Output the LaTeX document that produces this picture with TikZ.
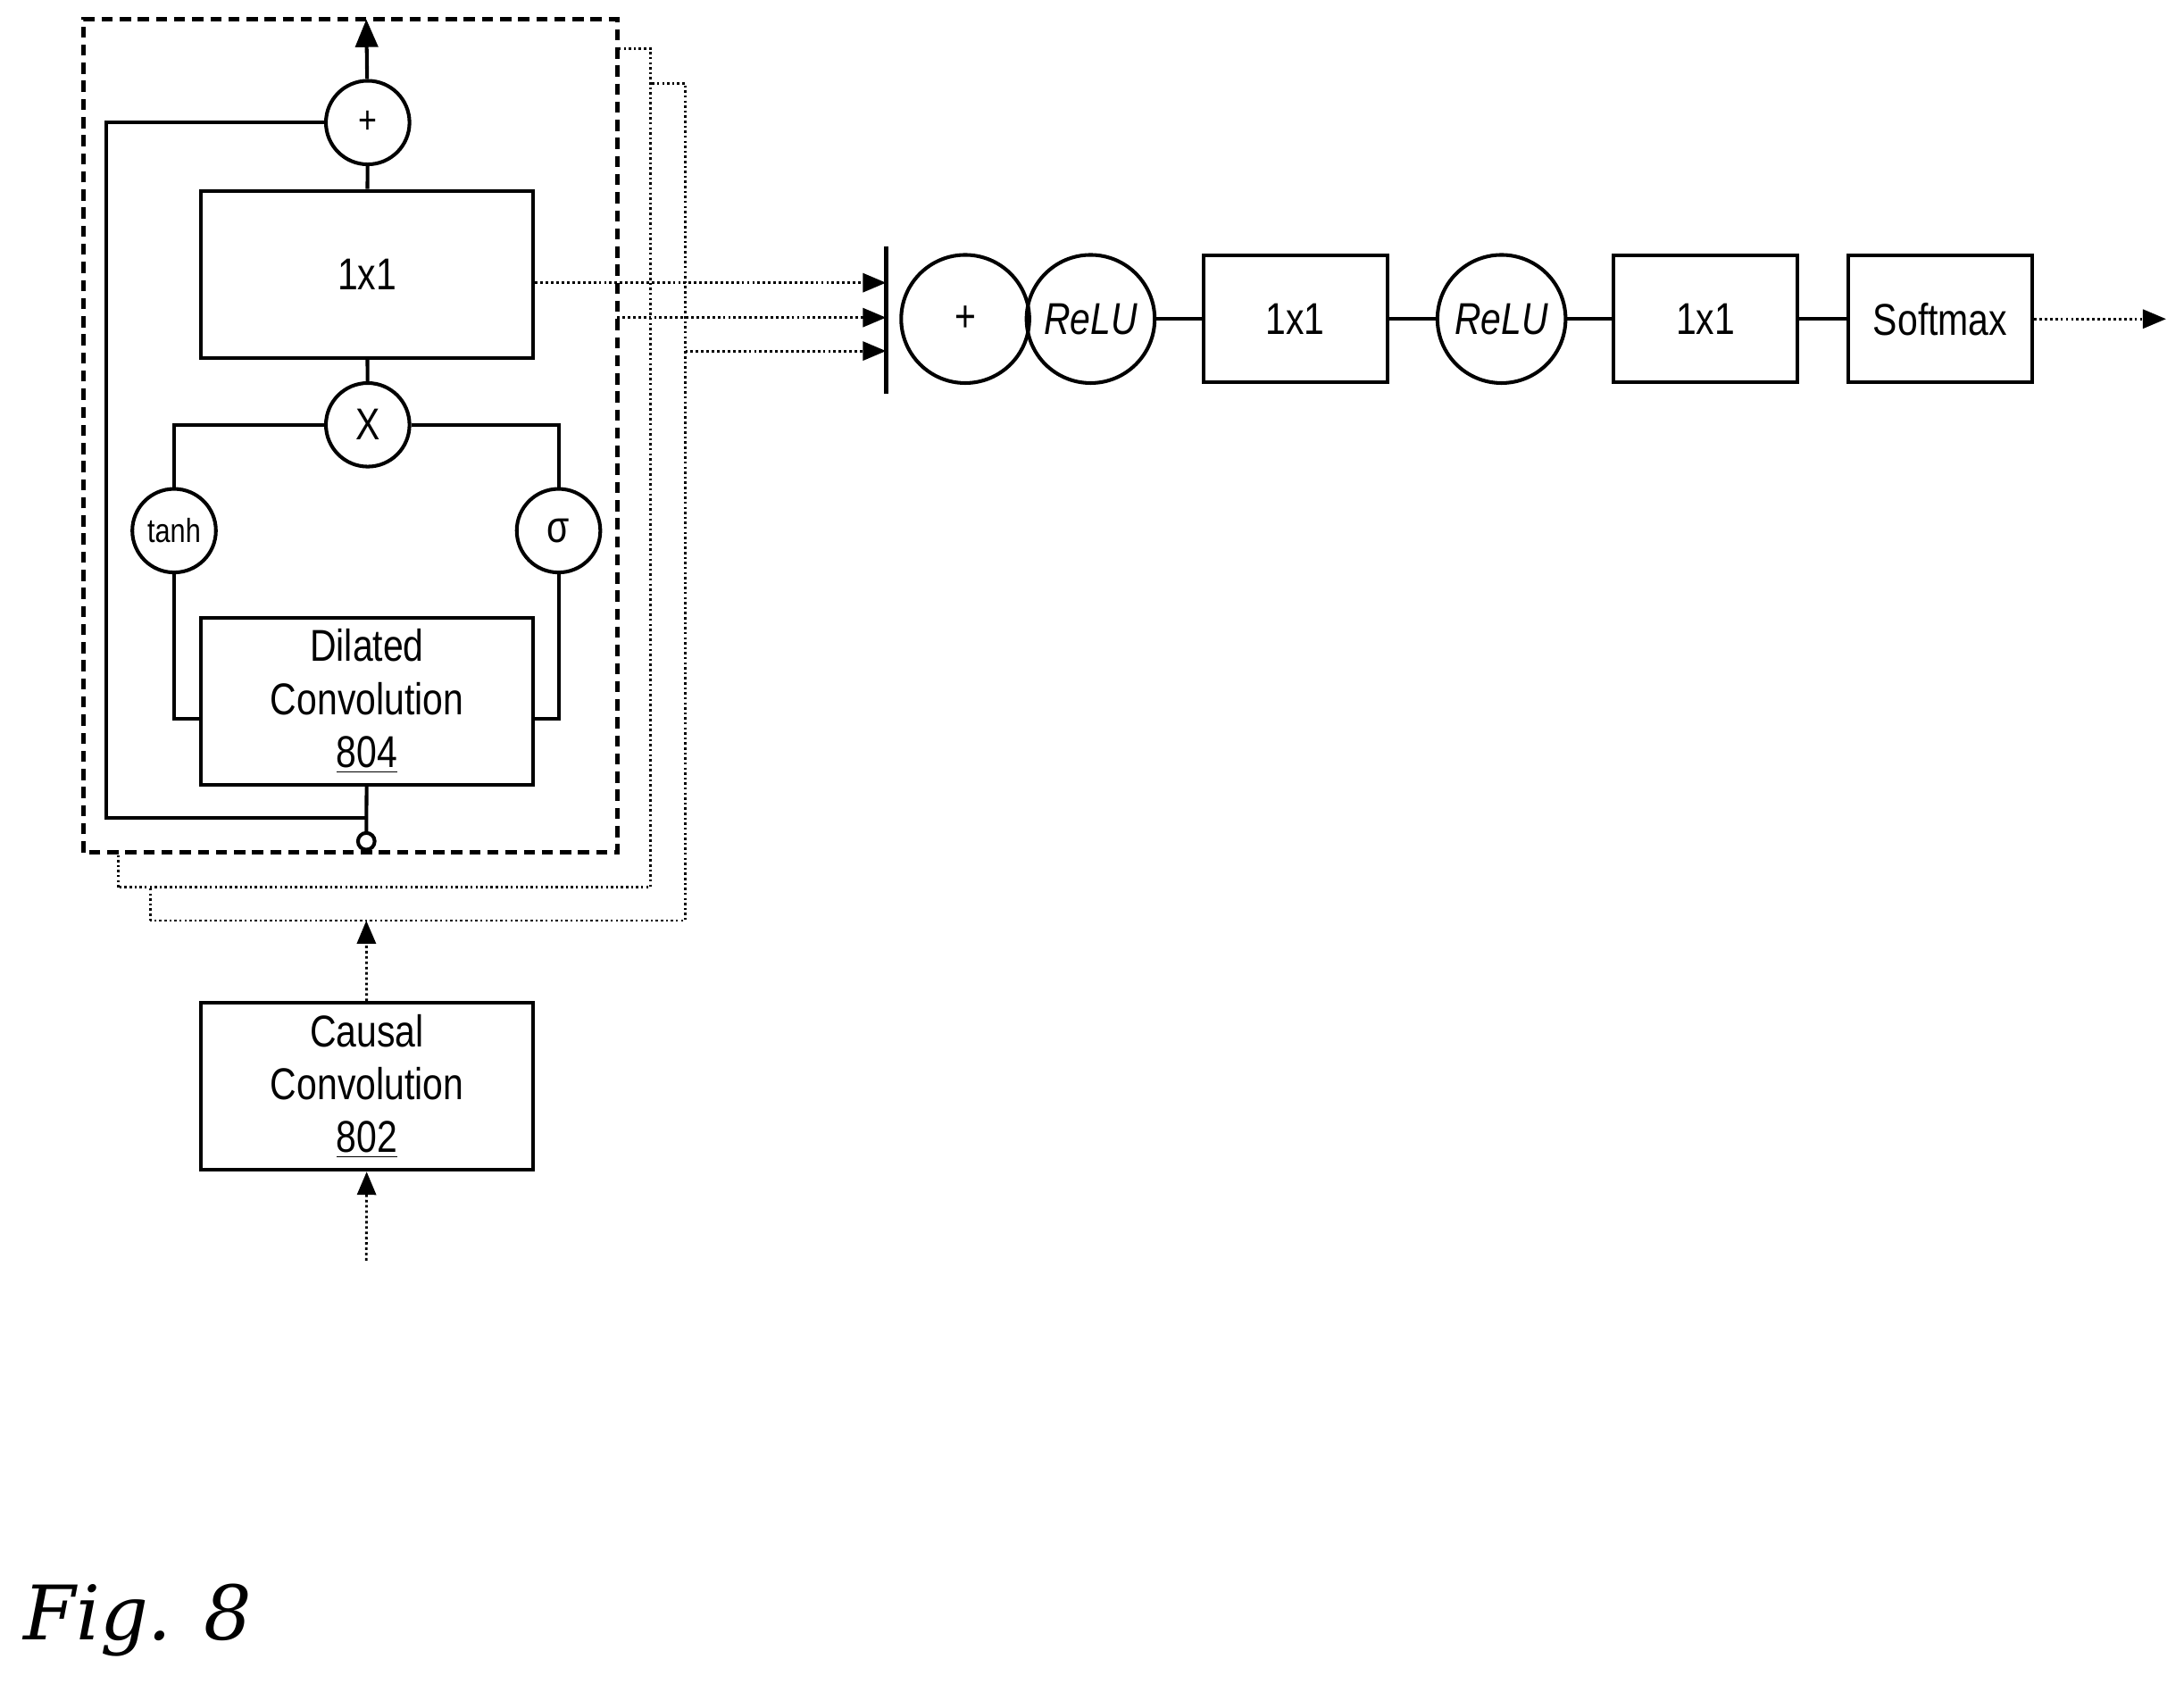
\documentclass[tikz,border=0pt]{standalone}
\usepackage{fontspec}
\setmainfont{Liberation Sans}[FakeStretch=0.82]
\newfontfamily\figfont{DejaVu Serif}
\usetikzlibrary{arrows,positioning}
\tikzset{
  blk/.style={draw,line width=1.3pt,minimum width=119.5pt,minimum height=60pt,align=center,font=\fontsize{16}{19}\selectfont},
  sblk/.style={draw,line width=1.3pt,minimum width=66pt,minimum height=45.5pt,font=\fontsize{16}{19}\selectfont},
  op/.style={draw,circle,line width=1.3pt,inner sep=0pt,minimum size=30pt,font=\fontsize{12}{14}\selectfont},
  bop/.style={draw,circle,line width=1.3pt,inner sep=0pt,minimum size=46pt,font=\fontsize{16}{19}\selectfont},
  wire/.style={line width=1.3pt},
  skip/.style={densely dotted,line width=0.9pt,-triangle 45},
}
\begin{document}
\begin{tikzpicture}[x=0.5pt,y=-0.5pt]
  \useasboundingbox (0,0) rectangle (1568,1209);
  % stacked layers
  \draw[densely dotted,line width=0.8pt] (108,661) rectangle (492,60);
  \draw[densely dotted,line width=0.8pt,fill=white] (85,637) rectangle (467,35);
  \draw[dash pattern=on 4pt off 2.5pt,line width=1.6pt,fill=white] (60,612) rectangle (443,14);
  % residual block
  \node[op,font=\fontsize{14}{16}\selectfont] (sum) at (264,88) {+};
  \node[blk] (res) at (263.5,197) {1x1};
  \node[op,font=\fontsize{16}{19}\selectfont] (mul) at (264,305) {X};
  \node[op] (tanh) at (125,381) {tanh};
  \node[op,font=\fontsize{16}{19}\selectfont] (sig) at (401,381) {σ};
  \node[blk] (dil) at (263.5,503.5) {Dilated\\Convolution\\\underline{804}};
  \node[draw,circle,line width=1.3pt,inner sep=0pt,minimum size=6pt] (in) at (263,604) {};
  \node[blk] (causal) at (263.5,780) {Causal\\Convolution\\\underline{802}};
  \coordinate (top) at (263,14);
  \coordinate (src) at (263,905);
  \coordinate (lay) at (263,661);
  \draw[wire,-triangle 45] (sum) -- (top);
  \draw[wire] (sum) -- (res);
  \draw[wire] (res) -- (mul);
  \draw[wire] (mul) -| (tanh);
  \draw[wire] (mul) -| (sig);
  \draw[wire] (tanh) |- (dil.west |- 0,516);
  \draw[wire] (sig) |- (dil.east |- 0,516);
  \draw[wire] (in) -- (dil);
  \draw[wire] (sum) -| (76,587) -- (263,587);
  \draw[skip] (src) -- (causal);
  \draw[skip] (causal) -- (lay);
  % output stack
  \draw[line width=1.6pt] (636,177) -- (636,283);
  \node[bop] (osum) at (693,229) {+};
  \node[bop] (relu1) at (783,229) {\itshape ReLU};
  \node[sblk] (fc1) at (930,229) {1x1};
  \node[bop] (relu2) at (1078,229) {\itshape ReLU};
  \node[sblk] (fc2) at (1224.5,229) {1x1};
  \node[sblk] (soft) at (1393,229) {Softmax};
  \coordinate (out) at (1555,229);
  \draw[wire] (relu1) -- (fc1);
  \draw[wire] (fc1) -- (relu2);
  \draw[wire] (relu2) -- (fc2);
  \draw[wire] (fc2) -- (soft);
  \draw[skip] (soft) -- (out);
  \draw[skip] (res.east |- 0,203) -- (636,203);
  \draw[skip] (443,228) -- (636,228);
  \draw[skip] (492,252) -- (636,252);
  \node[anchor=west,font=\figfont\itshape\fontsize{27}{30}\selectfont] (fig) at (10,1163) {Fig. 8};
\end{tikzpicture}
\end{document}
